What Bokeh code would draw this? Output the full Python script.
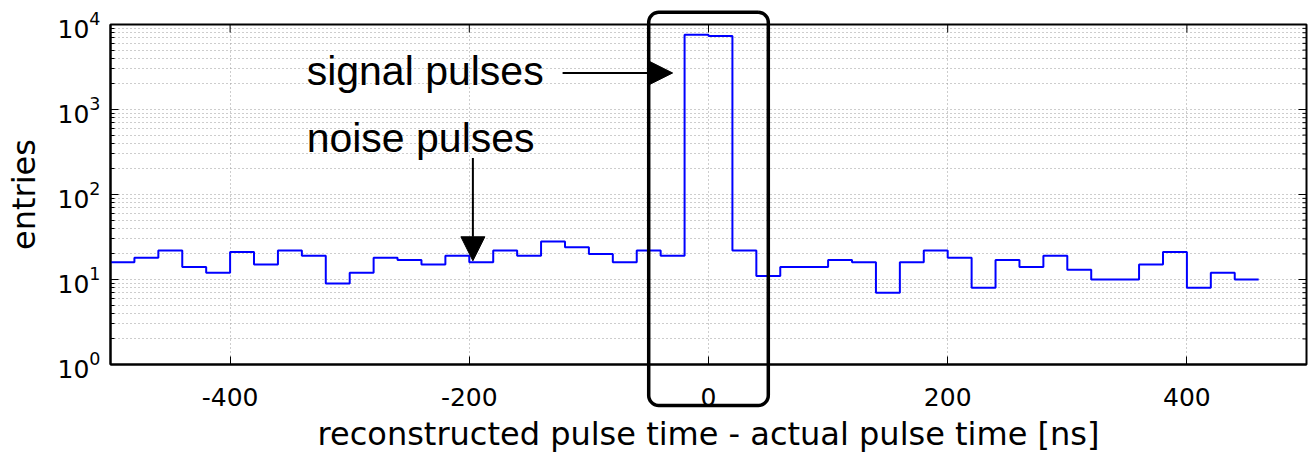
import numpy as np
from bokeh.plotting import figure
from bokeh.models import (FixedTicker, Arrow, NormalHead, Label)
from bokeh.embed import file_html
from bokeh.resources import INLINE

# ---- data -------------------------------------------------------------
bin_width = 20
bin_left = list(range(-500, 460, bin_width))
counts = [16, 18, 22, 14, 12, 21, 15, 22, 19, 9,
          12, 18, 17, 15, 19, 16, 22, 19, 28, 24,
          20, 16, 22, 19, 7600, 7300, 22, 11, 14, 14,
          17, 16, 7, 16, 22, 18, 8, 17, 14, 19,
          13, 10, 10, 15, 21, 8, 12, 10]
x_ticks = [-400, -200, 0, 200, 400]
x_tick_labels = ["-400", "-200", "0", "200", "400"]
y_ticks = [1, 10, 100, 1000, 10000]
y_minor = [k * 10 ** e for e in range(4) for k in range(2, 10)]

x_label = "reconstructed pulse time - actual pulse time [ns]"
y_label = "entries"

# highlighted region (signal window)
box_left, box_right = -50, 50
box_top, box_bottom = 13900, 0.33

X_MIN, X_MAX = -500, 500
Y_MIN, Y_MAX = 1, 1e4

# ---- figure -----------------------------------------------------------
p = figure(width=1309, height=455, y_axis_type="log",
           x_range=(X_MIN, X_MAX), y_range=(Y_MIN, Y_MAX),
           output_backend="svg", toolbar_location=None,
           min_border_left=110, min_border_right=3,
           min_border_top=24, min_border_bottom=90)
p.outline_line_color = "black"
p.outline_line_width = 2
p.background_fill_color = "white"

# grids
grid_col = "#9a9a9a"
p.xgrid.ticker = FixedTicker(ticks=x_ticks)
p.xgrid.grid_line_color = grid_col
p.xgrid.grid_line_dash = "1 3"
p.ygrid.ticker = FixedTicker(ticks=y_ticks, minor_ticks=y_minor)
p.ygrid.grid_line_color = grid_col
p.ygrid.grid_line_dash = "1 3"
p.ygrid.minor_grid_line_color = grid_col
p.ygrid.minor_grid_line_dash = "1 3"

# step histogram
xs, ys = [], []
for l, c in zip(bin_left, counts):
    xs += [l, l + bin_width]
    ys += [c, c]
p.line(xs, ys, line_color="#0000ff", line_width=2)

tick_font = "DejaVu Sans"

xa = p.xaxis[0]
xa.ticker = FixedTicker(ticks=x_ticks)
xa.major_label_overrides = dict(zip(x_ticks, x_tick_labels))
xa.major_tick_in = 8
xa.major_tick_out = 0
xa.minor_tick_line_color = None
xa.axis_line_width = 2
xa.major_label_text_font = tick_font
xa.major_label_text_font_size = "25px"
xa.major_label_text_color = "black"
xa.major_label_standoff = 23
xa.axis_label = x_label
xa.axis_label_text_font = tick_font
xa.axis_label_text_font_size = "32px"
xa.axis_label_text_font_style = "normal"
xa.axis_label_text_color = "black"
xa.axis_label_standoff = 6

ya = p.yaxis[0]
ya.ticker = FixedTicker(ticks=y_ticks, minor_ticks=y_minor)
ya.major_tick_in = 8
ya.major_tick_out = 0
ya.minor_tick_in = 4
ya.minor_tick_out = 0
ya.axis_line_width = 2
ya.major_label_text_font = tick_font
ya.major_label_text_font_size = "25px"
ya.major_label_text_color = "black"
ya.major_label_standoff = 10
ya.axis_label = y_label
ya.axis_label_text_font = tick_font
ya.axis_label_text_font_size = "32px"
ya.axis_label_text_font_style = "normal"
ya.axis_label_text_color = "black"
ya.axis_label_standoff = 12

# pixel scale of the frame (for tick lengths / corner radius)
frame_w_px, frame_h_px = 1196.0, 341.0
px_per_x = frame_w_px / (X_MAX - X_MIN)
px_per_decade = frame_h_px / (np.log10(Y_MAX) - np.log10(Y_MIN))

# mirrored ticks on the top and right frame edges
dx_major = 8 / px_per_x
dx_minor = 4 / px_per_x
fy_major = 10 ** (8 / px_per_decade)
p.segment(x0=[X_MAX] * len(y_ticks), x1=[X_MAX - dx_major] * len(y_ticks),
          y0=y_ticks, y1=y_ticks, line_color="black", line_width=1)
p.segment(x0=[X_MAX] * len(y_minor), x1=[X_MAX - dx_minor] * len(y_minor),
          y0=y_minor, y1=y_minor, line_color="black", line_width=1)
p.segment(x0=x_ticks, x1=x_ticks, y0=[Y_MAX] * len(x_ticks),
          y1=[Y_MAX / fy_major] * len(x_ticks), line_color="black", line_width=1)

# ---- rounded box around the signal window (drawn unclipped) -----------
r_px = 10
rx = r_px / px_per_x
ry = r_px / px_per_decade
lt, lb = np.log10(box_top), np.log10(box_bottom)
corners = [
    (box_right - rx, lt - ry, 90, 0),
    (box_right - rx, lb + ry, 0, -90),
    (box_left + rx, lb + ry, -90, -180),
    (box_left + rx, lt - ry, 180, 90),
]
bx, by = [], []
for cx, cy, a0, a1 in corners:
    t = np.radians(np.linspace(a0, a1, 10))
    bx += list(cx + rx * np.cos(t))
    by += list(10 ** (cy + ry * np.sin(t)))
bx.append(bx[0])
by.append(by[0])
p.line(bx, by, line_color="black", line_width=3.5, line_join="round", level="overlay")

# ---- annotations ------------------------------------------------------
ann_font = "Liberation Sans"
p.add_layout(Label(x=-336, y=2800, text="signal pulses", text_font=ann_font,
                   text_font_size="41px", text_baseline="alphabetic",
                   text_color="black"))
p.add_layout(Label(x=-336, y=460, text="noise pulses", text_font=ann_font,
                   text_font_size="41px", text_baseline="alphabetic",
                   text_color="black"))

p.add_layout(Arrow(x_start=-122, y_start=2690, x_end=-30, y_end=2690,
                   line_width=2, line_color="black",
                   end=NormalHead(size=24, fill_color="black", line_color="black")))
p.add_layout(Arrow(x_start=-197, y_start=268, x_end=-197, y_end=16.6,
                   line_width=2, line_color="black",
                   end=NormalHead(size=24, fill_color="black", line_color="black")))

open("out.html", "w").write(file_html(p, INLINE))
